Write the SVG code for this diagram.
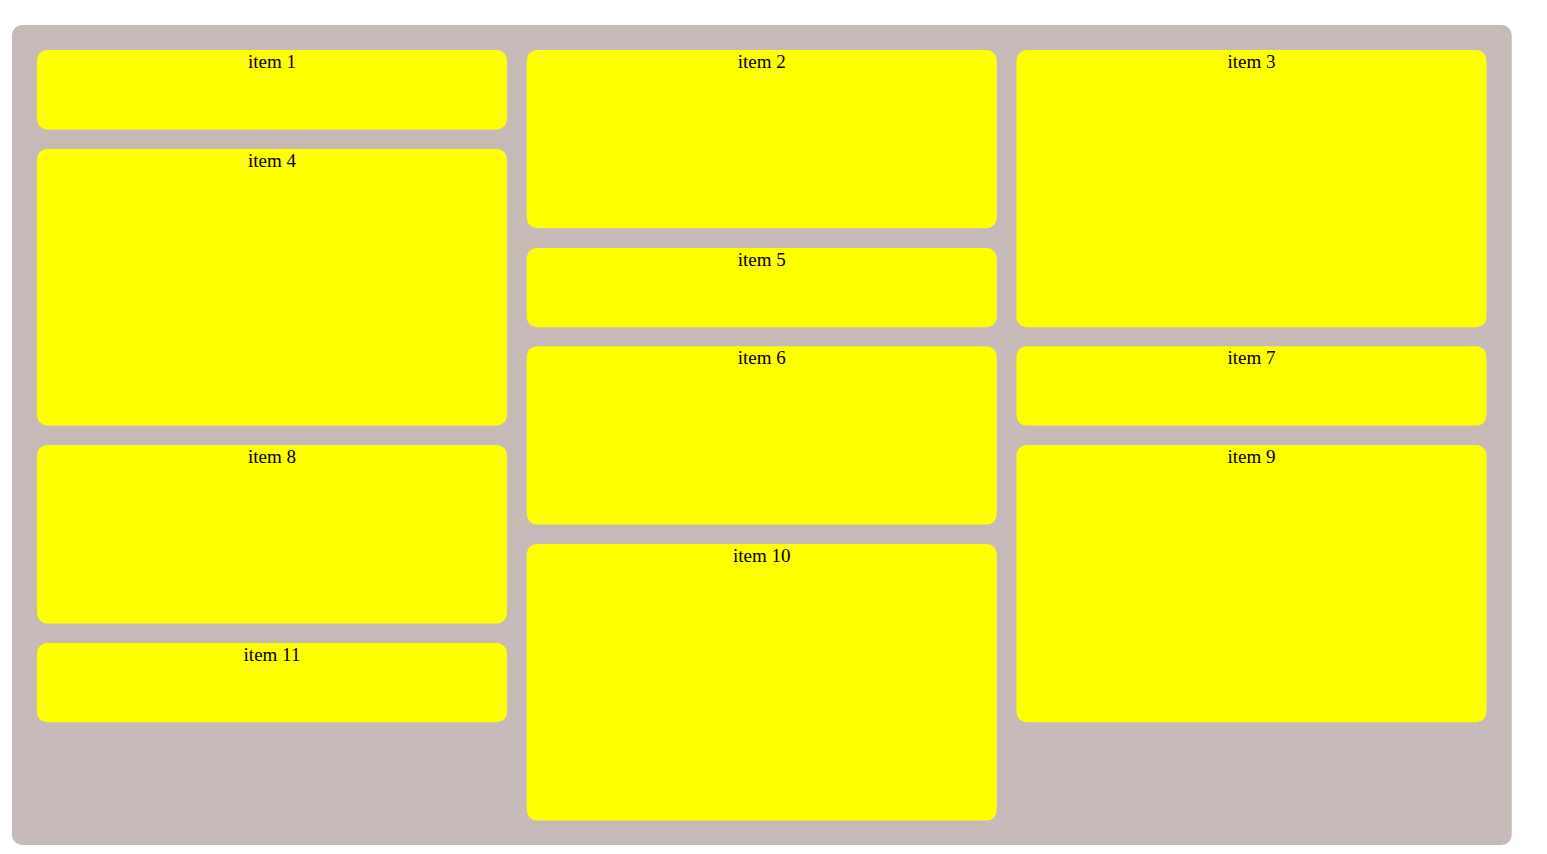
<svg xmlns="http://www.w3.org/2000/svg" width="1547" height="854" viewBox="0 0 1547 854">
<style>
.box{fill:#ffff00}
.lbl{font-family:"Liberation Serif","Times New Roman",serif;font-size:19px;fill:#000;text-anchor:middle}
</style>
<rect x="0" y="0" width="1547" height="854" fill="#ffffff"/>
<rect id="container" x="12" y="25" width="1499.7" height="820" rx="10" ry="10" fill="#c8b9b9"/>
<g id="item1"><rect class="box" x="37" y="50" width="470" height="79.5" rx="10"/><text class="lbl" x="272" y="68">item 1</text></g>
<g id="item2"><rect class="box" x="526.8" y="50" width="470" height="178.3" rx="10"/><text class="lbl" x="761.8" y="68">item 2</text></g>
<g id="item3"><rect class="box" x="1016.5" y="50" width="470" height="277.3" rx="10"/><text class="lbl" x="1251.5" y="68">item 3</text></g>
<g id="item4"><rect class="box" x="37" y="149" width="470" height="276.5" rx="10"/><text class="lbl" x="272" y="167">item 4</text></g>
<g id="item5"><rect class="box" x="526.8" y="248" width="470" height="79.3" rx="10"/><text class="lbl" x="761.8" y="266">item 5</text></g>
<g id="item6"><rect class="box" x="526.8" y="346.3" width="470" height="178.3" rx="10"/><text class="lbl" x="761.8" y="364.3">item 6</text></g>
<g id="item7"><rect class="box" x="1016.5" y="346.3" width="470" height="79.3" rx="10"/><text class="lbl" x="1251.5" y="364.3">item 7</text></g>
<g id="item8"><rect class="box" x="37" y="445" width="470" height="178.5" rx="10"/><text class="lbl" x="272" y="463">item 8</text></g>
<g id="item9"><rect class="box" x="1016.5" y="445" width="470" height="277.3" rx="10"/><text class="lbl" x="1251.5" y="463">item 9</text></g>
<g id="item10"><rect class="box" x="526.8" y="544" width="470" height="276.6" rx="10"/><text class="lbl" x="761.8" y="562">item 10</text></g>
<g id="item11"><rect class="box" x="37" y="643" width="470" height="79.3" rx="10"/><text class="lbl" x="272" y="661">item 11</text></g>
<g id="connectors"></g>
</svg>
